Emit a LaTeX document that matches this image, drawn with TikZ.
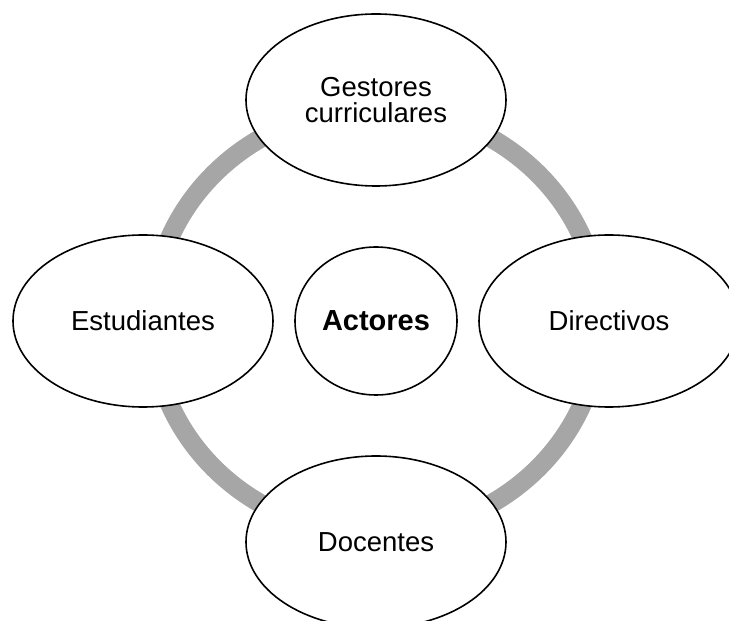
\documentclass[tikz,border=0pt]{standalone}
\usepackage{fontspec}
\setmainfont{Liberation Sans}
\usetikzlibrary{shapes.geometric}

\tikzset{
  actor/.style={ellipse, draw, line width=1.6pt, fill=white, minimum width=260pt,
    minimum height=172pt, inner sep=0pt, align=center, font=\fontsize{27.5}{26.5}\selectfont},
  hub/.style={actor, minimum width=162pt, minimum height=148pt,
    font=\fontsize{29}{30}\selectfont\bfseries},
  ring/.style={line width=19pt, color=black!35}
}

\begin{document}
\begin{tikzpicture}[x=1pt, y=1pt]
	%%%%% START %%%%%
	\useasboundingbox (0, 0) rectangle (729, 621);
	\clip (0, 0) rectangle (729, 621);
	
	\coordinate (centre) at (376, 300);
	\draw[ring] (centre) ellipse [x radius=224, y radius=213];
	
	\node[hub] (actores) at (centre) {Actores};
	
	\node[actor] (gestores) at (376, 521) {Gestores\\curriculares};
	\node[actor] (estudiantes) at (143, 300) {Estudiantes};
	\node[actor] (directivos) at (609, 300) {Directivos};
	\node[actor] (docentes) at (376, 79) {Docentes};
	
	%%%%% END %%%%%
\end{tikzpicture}
\end{document}
